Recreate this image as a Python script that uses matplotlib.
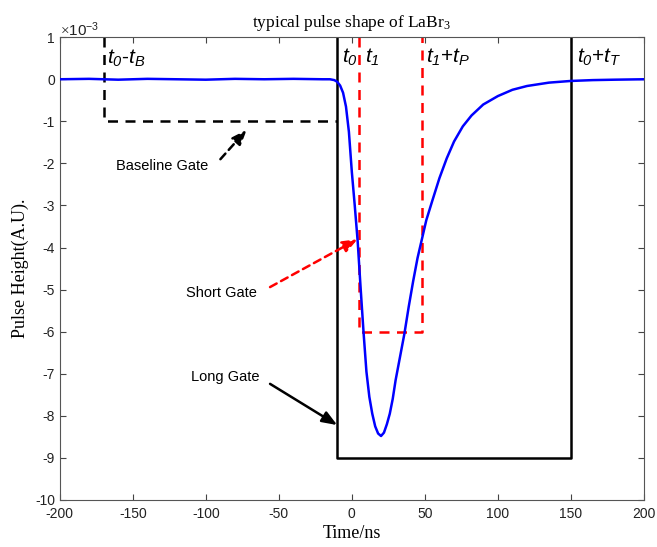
import numpy as np
import matplotlib
matplotlib.use("Agg")
import matplotlib.pyplot as plt

plt.rcParams["axes.unicode_minus"] = False
plt.rcParams["mathtext.fontset"] = "custom"
plt.rcParams["mathtext.rm"] = "Liberation Serif"
plt.rcParams["mathtext.it"] = "Liberation Sans:italic"
plt.rcParams["mathtext.sf"] = "Liberation Sans:italic"   # gate edge labels
plt.rcParams["mathtext.bf"] = "Liberation Sans"          # exponent label

# pulse shape (values in units of 1e-3)
t = [-200, -180, -160, -140, -120, -100, -80, -60, -40, -20, -15, -12, -10, -8, -6, -4, -2,
     0, 2, 4, 6, 8, 10, 12, 14, 16, 18, 20, 22, 24, 26, 28, 30, 33, 36, 39, 42, 45,
     48, 51, 55, 60, 65, 70, 76, 82, 90, 100, 110, 120, 135, 150, 165, 180, 200]
pulse = [0.0, 0.01, -0.01, 0.01, 0.0, -0.01, 0.01, 0.0, 0.01, 0.0, 0.0, -0.02, -0.06,
         -0.15, -0.32, -0.65, -1.25,
         -2.2, -3.0, -3.85, -4.95, -6.0, -6.95, -7.55, -7.95, -8.25, -8.42, -8.48, -8.4,
         -8.2, -7.95, -7.6, -7.15, -6.6, -6.05, -5.4, -4.8, -4.25,
         -3.8, -3.35, -2.9, -2.35, -1.88, -1.48, -1.12, -0.86, -0.6, -0.4, -0.25, -0.16,
         -0.08, -0.04, -0.02, -0.01, 0.0]

# gates
t0, tB, t1, tP, tT = -10, 160, 5, 43, 160
baseline_level = -1
short_level = -6
long_level = -9

serif = "Liberation Serif"
sans = "Liberation Sans"

fig = plt.figure(figsize=(6.57, 5.47), dpi=100)
ax = fig.add_axes([0.091, 0.086, 0.889, 0.846])

ax.plot(t, pulse, color="#0000ff", lw=1.8, zorder=3)

# baseline gate
ax.plot([t0 - tB, t0 - tB, t0], [1, baseline_level, baseline_level],
        color="black", lw=1.8, ls=(0, (4, 3)))
# long gate
ax.plot([t0, t0, t0 + tT, t0 + tT], [1, long_level, long_level, 1],
        color="black", lw=1.8)
# short gate
ax.plot([t1, t1, t1 + tP, t1 + tP], [1, short_level, short_level, 1],
        color="red", lw=1.8, ls=(0, (4, 3)))

ax.set_xlim(-200, 200)
ax.set_ylim(-10, 1)
ax.set_xticks(np.arange(-200, 201, 50))
ax.set_yticks(np.arange(-10, 2, 1))
ax.tick_params(direction="in", top=True, right=True, length=4, width=0.8,
               labelsize=10, color="#444444", labelcolor="#222222")
ax.tick_params(axis="x", pad=5)
for lab in ax.get_xticklabels() + ax.get_yticklabels():
    lab.set_family(sans)
for sp in ax.spines.values():
    sp.set_linewidth(0.8)
    sp.set_color("#555555")

ax.text(-200, 1.17, r"$\times\mathbf{10^{-3}}$", fontsize=11, family=sans,
        ha="left", va="center", color="#222222")

ax.set_title(r"typical pulse shape of LaBr$_{3}$", family=serif, fontsize=12.5, pad=7)
ax.set_xlabel("Time/ns", family=serif, fontsize=13, labelpad=3)
ax.set_ylabel("Pulse Height(A.U).", family=serif, fontsize=13, labelpad=4)

# gate edge labels
lab_kw = dict(fontsize=15, family=sans, va="center", ha="left")
ax.text(-168, 0.5, r"$\mathsf{t_0}$-$\mathsf{t_B}$", **lab_kw)
ax.text(-7, 0.52, r"$\mathsf{t_0}$", **lab_kw)
ax.text(9, 0.52, r"$\mathsf{t_1}$", **lab_kw)
ax.text(51, 0.52, r"$\mathsf{t_1}$+$\mathsf{t_P}$", **lab_kw)
ax.text(154, 0.52, r"$\mathsf{t_0}$+$\mathsf{t_T}$", **lab_kw)

# gate annotations: text, then arrow from tail to head
note_kw = dict(fontsize=10.5, family=sans, ha="center", va="center")
head = "-|>,head_length=0.9,head_width=0.35"

ax.text(-130, -2.05, "Baseline Gate", **note_kw)
ax.annotate("", xy=(-72, -1.2), xytext=(-90, -1.9),
            arrowprops=dict(arrowstyle=head, color="black", lw=1.8,
                            ls=(0, (3, 2)), shrinkA=0, shrinkB=0))

ax.text(-89, -5.08, "Short Gate", **note_kw)
ax.annotate("", xy=(4, -3.8), xytext=(-56, -4.94),
            arrowprops=dict(arrowstyle=head, color="red", lw=1.8,
                            ls=(0, (3, 2)), shrinkA=0, shrinkB=0))

ax.text(-87, -7.07, "Long Gate", **note_kw)
ax.annotate("", xy=(-10, -8.22), xytext=(-56, -7.24),
            arrowprops=dict(arrowstyle=head, color="black", lw=1.8,
                            shrinkA=0, shrinkB=0))

fig.savefig("out.png", dpi=100)
